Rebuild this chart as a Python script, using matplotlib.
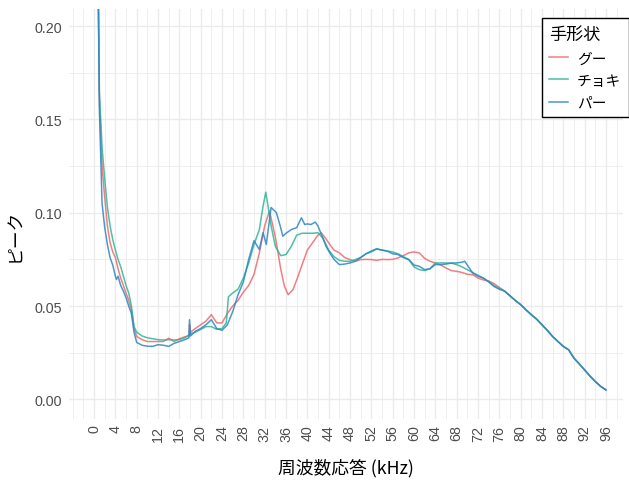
import matplotlib
matplotlib.use("Agg")
import matplotlib.pyplot as plt
from matplotlib.ticker import FixedLocator, FuncFormatter
from matplotlib.lines import Line2D

# ---- data ----
freq_goo = [0, 0.5, 1.0, 1.5, 2.0, 2.5, 3, 3.5, 4, 4.5, 5, 5.5, 6, 6.5, 7, 7.5, 8, 9, 10, 11, 12, 13, 14, 15, 16, 17,
            17.8, 17.9, 18.1, 19, 20, 21, 22, 23, 24, 25, 26, 27, 28, 29, 30, 31, 32, 32.9, 34, 35, 35.7, 36.4, 37.3,
            38, 39, 40, 41, 42, 42.6, 43.5, 44.2, 45, 46, 47, 48, 49, 50, 51, 52, 53, 54, 55, 56, 57, 58, 59, 60, 61,
            62, 63, 64, 65, 66, 67, 68, 69, 70, 71, 72, 73, 74, 75, 76, 77, 78, 79, 80, 81, 82, 83, 84, 85, 86, 87,
            88, 89, 90, 91, 92, 93, 94, 95, 96]
peak_goo = [0.60, 0.30, 0.160, 0.125, 0.108, 0.093, 0.084, 0.079, 0.076, 0.070, 0.065, 0.061, 0.057, 0.053, 0.048,
            0.038, 0.0337, 0.032, 0.031, 0.031, 0.031, 0.031, 0.0328, 0.031, 0.0325, 0.0335, 0.034, 0.040, 0.036,
            0.038, 0.040, 0.042, 0.0454, 0.041, 0.041, 0.046, 0.050, 0.053, 0.0575, 0.061, 0.067, 0.0785, 0.093,
            0.101, 0.087, 0.070, 0.0606, 0.0561, 0.0588, 0.064, 0.072, 0.080, 0.084, 0.088, 0.0893, 0.086, 0.083,
            0.080, 0.0785, 0.076, 0.0749, 0.074, 0.0749, 0.075, 0.0749, 0.0745, 0.075, 0.0749, 0.075, 0.0758, 0.077,
            0.0785, 0.079, 0.0785, 0.0755, 0.074, 0.0731, 0.072, 0.0704, 0.069, 0.0686, 0.068, 0.067, 0.0668, 0.065,
            0.064, 0.0635, 0.062, 0.060, 0.058, 0.0555, 0.053, 0.0508, 0.048, 0.0454, 0.043, 0.040, 0.037, 0.0337,
            0.031, 0.0284, 0.0266, 0.0221, 0.019, 0.0158, 0.0125, 0.0096, 0.007, 0.0051]

freq_choki = [0, 0.5, 1.0, 1.5, 2.0, 2.5, 3, 3.5, 4, 4.5, 5, 5.5, 6, 6.5, 7, 7.5, 8, 9, 10, 11, 12, 13, 14, 15, 16,
              17, 18, 19, 20, 21, 22, 23, 24, 24.8, 25.2, 26, 27, 28, 29, 30, 31, 31.7, 32.2, 32.6, 33.2, 34, 35, 36,
              37, 38, 39, 40, 41, 42, 43, 44, 45, 46, 47, 48, 49, 50, 51, 52, 53, 54, 55, 56, 57, 58, 59, 60, 61, 62,
              63, 64, 65, 66, 67, 68, 69, 70, 71, 72, 73, 74, 75, 76, 77, 78, 79, 80, 81, 82, 83, 84, 85, 86, 87, 88,
              89, 90, 91, 92, 93, 94, 95, 96]
peak_choki = [0.60, 0.30, 0.165, 0.135, 0.118, 0.103, 0.093, 0.0857, 0.080, 0.075, 0.071, 0.066, 0.061, 0.057,
              0.050, 0.039, 0.036, 0.034, 0.033, 0.0325, 0.032, 0.0318, 0.032, 0.0318, 0.032, 0.033, 0.035, 0.036,
              0.0375, 0.039, 0.039, 0.0375, 0.038, 0.041, 0.055, 0.057, 0.059, 0.065, 0.073, 0.083, 0.091, 0.1036,
              0.111, 0.104, 0.093, 0.082, 0.077, 0.0776, 0.082, 0.088, 0.089, 0.089, 0.089, 0.0893, 0.086, 0.080,
              0.0765, 0.0745, 0.074, 0.074, 0.0749, 0.076, 0.078, 0.079, 0.0805, 0.080, 0.0795, 0.079, 0.078, 0.0765,
              0.075, 0.071, 0.0695, 0.069, 0.070, 0.0731, 0.0731, 0.0731, 0.073, 0.0722, 0.071, 0.0695, 0.068, 0.0665,
              0.065, 0.063, 0.061, 0.0595, 0.058, 0.0555, 0.053, 0.0508, 0.048, 0.0454, 0.043, 0.040, 0.037, 0.0337,
              0.031, 0.0284, 0.0266, 0.0221, 0.019, 0.0158, 0.0125, 0.0096, 0.007, 0.0051]

freq_paa = [0, 0.5, 1.0, 1.5, 2.0, 2.5, 3, 3.5, 4, 4.2, 4.5, 5, 5.5, 6, 6.5, 7, 7.5, 8, 9, 10, 11, 12, 13, 14, 15,
            16, 17, 17.8, 17.9, 18.1, 19, 20, 21, 22, 23, 24, 25, 26, 27, 28, 29, 30, 31, 31.7, 32.3, 33.2, 34.2, 35,
            35.4, 36, 37, 38, 38.9, 39.5, 40, 40.7, 41.5, 42, 42.9, 43.5, 44.2, 45, 46, 47, 48, 49, 50, 51, 52, 53,
            54, 55, 56, 57, 58, 59, 60, 61, 62, 63, 64, 65, 66, 67, 68, 69, 69.5, 70, 71, 72, 73, 74, 75, 76, 77, 78,
            79, 80, 81, 82, 83, 84, 85, 86, 87, 88, 89, 90, 91, 92, 93, 94, 95, 96]
peak_paa = [0.60, 0.30, 0.155, 0.105, 0.092, 0.083, 0.076, 0.072, 0.066, 0.0642, 0.066, 0.061, 0.058, 0.0545, 0.050,
            0.046, 0.036, 0.0305, 0.029, 0.0285, 0.0284, 0.0293, 0.029, 0.0284, 0.030, 0.031, 0.032, 0.033, 0.0427,
            0.034, 0.0365, 0.038, 0.040, 0.0427, 0.038, 0.037, 0.040, 0.047, 0.056, 0.063, 0.075, 0.085, 0.0803,
            0.0893, 0.083, 0.1028, 0.100, 0.092, 0.0874, 0.089, 0.091, 0.092, 0.0973, 0.0937, 0.094, 0.0937, 0.095,
            0.0928, 0.0866, 0.082, 0.0785, 0.075, 0.0722, 0.0725, 0.0731, 0.074, 0.076, 0.078, 0.0795, 0.0807, 0.080,
            0.0794, 0.078, 0.0776, 0.076, 0.0749, 0.072, 0.0713, 0.0695, 0.070, 0.0722, 0.0722, 0.0725, 0.073,
            0.0731, 0.0735, 0.074, 0.072, 0.0677, 0.066, 0.065, 0.063, 0.0605, 0.059, 0.058, 0.0555, 0.053, 0.0508,
            0.048, 0.0454, 0.043, 0.040, 0.037, 0.0337, 0.031, 0.0284, 0.0266, 0.0221, 0.019, 0.0158, 0.0125, 0.0096,
            0.007, 0.0051]

series_names = ["グー", "チョキ", "パー"]
series_colors = ["#F0686B", "#2EB596", "#2C86C4"]
x_ticks = list(range(0, 97, 4))
y_ticks = [0.00, 0.05, 0.10, 0.15, 0.20]
x_title = "周波数応答 (kHz)"
y_title = "ピーク"
legend_title = "手形状"

JP = ["Noto Sans CJK JP", "DejaVu Sans"]
LAT = ["Liberation Sans", "DejaVu Sans"]

W, H = 629, 481
fig = plt.figure(figsize=(W / 100, H / 100), dpi=100)
left, right, top, bottom = 69, 623, 9.5, 420
ax = fig.add_axes([left / W, 1 - bottom / H, (right - left) / W, (bottom - top) / H])

xs = [freq_goo, freq_choki, freq_paa]
ys = [peak_goo, peak_choki, peak_paa]
for x, y, c in zip(xs, ys, series_colors):
    ax.plot(x, y, color=c, lw=1.1, alpha=0.85, solid_joinstyle="round", zorder=3)

ax.set_xlim(-4.7, 99.2)
ax.set_ylim(-0.0105, 0.2094)

ax.xaxis.set_major_locator(FixedLocator(x_ticks))
ax.xaxis.set_minor_locator(FixedLocator(list(range(-4, 101, 2))))
ax.yaxis.set_major_locator(FixedLocator(y_ticks))
ax.yaxis.set_minor_locator(FixedLocator([0.025, 0.075, 0.125, 0.175]))
ax.yaxis.set_major_formatter(FuncFormatter(lambda v, p: f"{v:.2f}"))

ax.grid(which="major", color="#EBEBEB", lw=1.0, zorder=0)
ax.grid(which="minor", color="#EBEBEB", lw=0.6, zorder=0)
ax.set_axisbelow(True)
for s in ax.spines.values():
    s.set_visible(False)
ax.tick_params(which="both", length=0)
ax.tick_params(axis="x", pad=4, labelsize=10.3, labelcolor="#4D4D4D", labelrotation=90)
ax.tick_params(axis="y", pad=5, labelsize=10.3, labelcolor="#4D4D4D")
for lab in ax.get_xticklabels() + ax.get_yticklabels():
    lab.set_family(LAT)

fig.text((left + right) / 2 / W, 1 - 468 / H, x_title, family=JP, fontsize=12.8,
         ha="center", va="center", color="black")
fig.text(15 / W, 1 - 235 / H, y_title, family=JP, fontsize=12.8, rotation=90,
         ha="center", va="center", color="black")

handles = [Line2D([], [], color=c, lw=1.1, alpha=0.85) for c in series_colors]
leg = fig.legend(handles, series_names, loc="upper right",
                 bbox_to_anchor=(628.5 / W, 1 - 19 / H), borderaxespad=0,
                 frameon=True, fancybox=False, shadow=False,
                 prop={"family": JP, "size": 10.6},
                 title=legend_title, title_fontproperties={"family": JP, "size": 12.3},
                 handlelength=1.3, handletextpad=0.6, labelspacing=0.55,
                 borderpad=0.5, alignment="left")
leg.get_frame().set_edgecolor("black")
leg.get_frame().set_linewidth(1.0)
leg.get_frame().set_facecolor("white")
leg.get_frame().set_alpha(1)

fig.savefig("out.png", dpi=100)
